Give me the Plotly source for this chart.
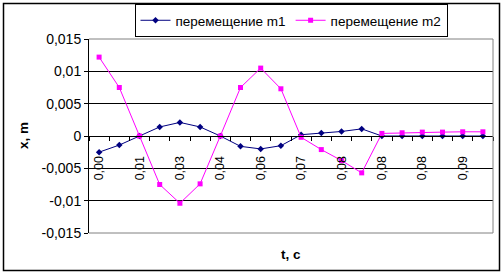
import plotly.graph_objects as go

# ---- data ----
t_labels = ["0,00", "0,01", "0,01", "0,02", "0,03", "0,03", "0,04", "0,05", "0,06", "0,06",
            "0,07", "0,07", "0,08", "0,08", "0,08", "0,08", "0,08", "0,09", "0,09", "0,09"]
m1 = [-0.0025, -0.0014, 0.0, 0.0014, 0.0021, 0.0014, 0.0, -0.0016, -0.0020, -0.0015,
      0.0002, 0.00045, 0.0007, 0.0011, 0.0, 0.0, 0.0, 0.0, 0.0, 0.0]
m2 = [0.0122, 0.0075, 0.0, -0.0075, -0.0104, -0.0074, 0.0, 0.0075, 0.0105, 0.0073,
      -0.0002, -0.0021, -0.0038, -0.0057, 0.0004, 0.0005, 0.0006, 0.0006, 0.00065, 0.00065]
y_ticks = [-0.015, -0.01, -0.005, 0, 0.005, 0.01, 0.015]
y_tick_labels = ["-0,015", "-0,01", "-0,005", "0", "0,005", "0,01", "0,015"]
names = ["перемещение m1", "перемещение m2"]

idx = list(range(len(t_labels)))

W, H = 504, 274
L, R, T, B = 89, 11, 39, 41
pw, ph = W - L - R, H - T - B

def px(x):
    return (x - L) / pw

def py(y):
    return (H - B - y) / ph

FONT = "Arial, 'Liberation Sans', sans-serif"

fig = go.Figure()
fig.add_trace(go.Scatter(x=idx, y=m1, name=names[0], mode="lines+markers",
                         line=dict(color="#000080", width=1),
                         marker=dict(symbol="diamond", size=5, color="#000080")))
fig.add_trace(go.Scatter(x=idx, y=m2, name=names[1], mode="lines+markers",
                         line=dict(color="#FF00FF", width=1),
                         marker=dict(symbol="square", size=5, color="#FF00FF")))

fig.update_layout(
    width=W, height=H,
    margin=dict(l=L, r=R, t=T, b=B, pad=0, autoexpand=False),
    paper_bgcolor="white", plot_bgcolor="white",
    font=dict(family=FONT, color="black", size=13),
    showlegend=True,
    legend=dict(orientation="h", x=0.5, xanchor="center", y=py(4), yanchor="top",
                bordercolor="black", borderwidth=1, font=dict(size=13.5),
                itemwidth=30, tracegroupgap=0, bgcolor="white"),
    xaxis=dict(range=[-0.5, len(idx) - 0.5], anchor="free", position=0.5,
               showline=True, linecolor="black", linewidth=1,
               showgrid=False, zeroline=False,
               tickmode="array", tickvals=idx[::2], ticktext=t_labels[::2],
               ticks="", tickangle=-90, tickfont=dict(size=12.5),
               ticklabelstandoff=14, automargin=False,
               minor=dict(tickmode="linear", tick0=-0.5, dtick=1, ticks="outside",
                          ticklen=4, tickcolor="black", showgrid=False)),
    yaxis=dict(range=[-0.015, 0.015], tickmode="array", tickvals=y_ticks,
               ticktext=y_tick_labels, ticks="outside", ticklen=4, tickcolor="black",
               showline=True, linecolor="black", linewidth=1, automargin=False,
               showgrid=True, gridcolor="black", gridwidth=1, zeroline=False,
               tickfont=dict(size=14)),
    annotations=[
        dict(text="<b>x, m</b>", x=px(23), y=0.5, xref="paper", yref="paper",
             xanchor="center", yanchor="middle",
             textangle=-90, showarrow=False, font=dict(size=13.5)),
        dict(text="<b>t, c</b>", x=0.5, y=py(254.5), xref="paper", yref="paper",
             xanchor="center", yanchor="middle",
             showarrow=False, font=dict(size=13.5)),
    ],
    shapes=[
        dict(type="rect", xref="paper", yref="paper", x0=px(3.5), x1=px(499.5),
             y0=py(270.5), y1=py(3.5), line=dict(color="black", width=1.5), layer="above"),
        dict(type="line", xref="paper", yref="paper", x0=0, x1=1, y0=1, y1=1,
             line=dict(color="#808080", width=1), layer="above"),
        dict(type="line", xref="paper", yref="paper", x0=0, x1=1, y0=0, y1=0,
             line=dict(color="#808080", width=1), layer="above"),
        dict(type="line", xref="paper", yref="paper", x0=1, x1=1, y0=0, y1=1,
             line=dict(color="#808080", width=1), layer="above"),
    ],
)

fig.write_html("out.html")
